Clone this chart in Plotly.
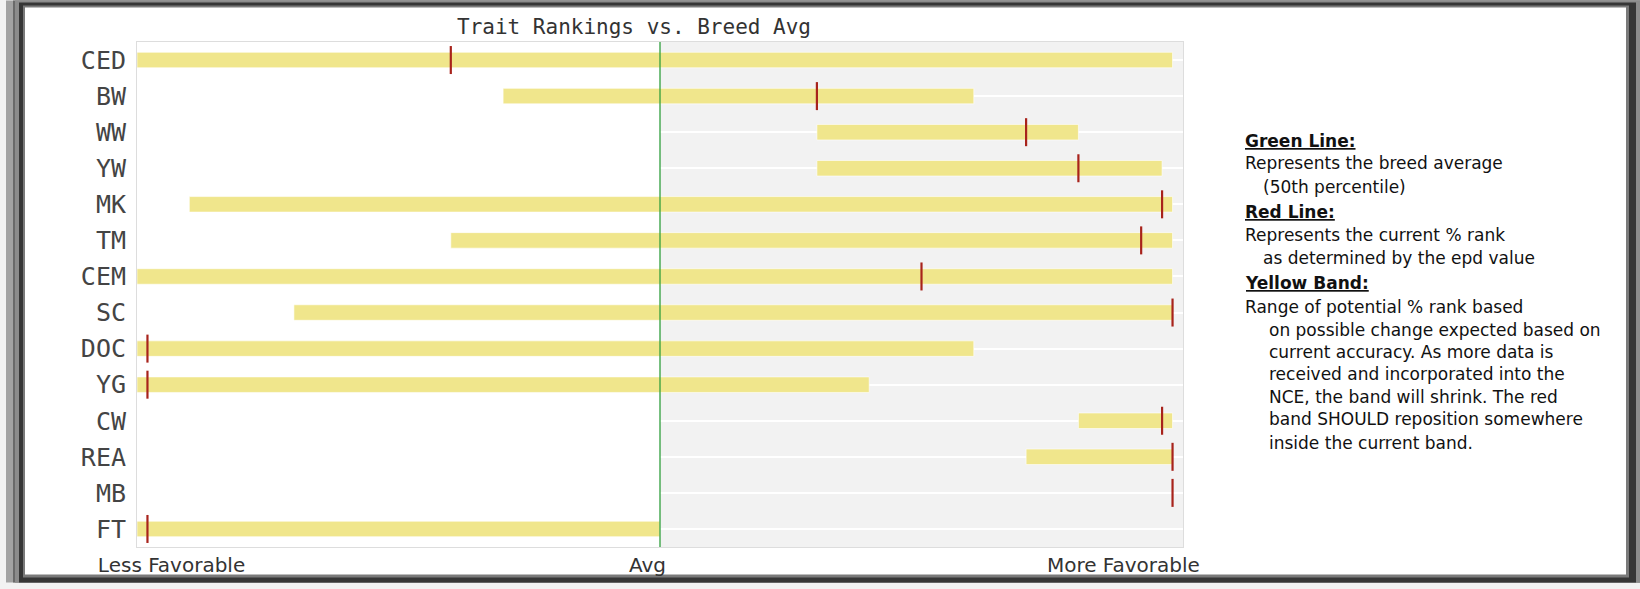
import plotly.graph_objects as go

# ---------------- data ----------------
traits = ["CED", "BW", "WW", "YW", "MK", "TM", "CEM", "SC", "DOC", "YG", "CW", "REA", "MB", "FT"]
band_low = [0, 35, 65, 65, 5, 30, 0, 15, 0, 0, 90, 85, 99, 0]
band_high = [99, 80, 90, 98, 99, 99, 99, 99, 80, 70, 99, 99, 99, 50]
current_rank = [30, 65, 85, 90, 98, 96, 75, 99, 1, 1, 98, 99, 99, 1]
breed_avg = 50
x_tick_vals = [3.3, 48.8, 94.3]
x_tick_text = ["Less Favorable", "Avg", "More Favorable"]
chart_title = "Trait Rankings vs. Breed Avg"
legend_lines = [
    ("<b><u>Green Line:</u></b>", 0),
    ("Represents the breed average", 0),
    ("(50th percentile)", 1),
    ("<b><u>Red Line:</u></b>", 0),
    ("Represents the current % rank", 0),
    ("as determined by the epd value", 1),
    ("<b><u>Yellow Band:</u></b>", 0),
    ("Range of potential % rank based", 0),
    ("on possible change expected based on", 2),
    ("current accuracy. As more data is", 2),
    ("received and incorporated into the", 2),
    ("NCE, the band will shrink. The red", 2),
    ("band SHOULD reposition somewhere", 2),
    ("inside the current band.", 2),
]

# ---------------- geometry ----------------
W, H = 1640, 589
PL, PR, PT, PB = 137, 1183, 42, 554


def px2x(px):
    return (px - PL) / (PR - PL)


def py2y(py):
    return (PB - py) / (PB - PT)


fig = go.Figure()

fig.add_trace(go.Bar(
    y=traits,
    x=[h - l for l, h in zip(band_low, band_high)],
    base=band_low,
    orientation="h",
    width=0.43,
    marker=dict(color="#F0E68C", line=dict(color="rgba(255,255,255,0.6)", width=1)),
    hoverinfo="skip",
    showlegend=False,
))

fig.add_trace(go.Scatter(
    y=traits,
    x=current_rank,
    mode="markers",
    marker=dict(symbol="line-ns", size=20, line=dict(color="#A8231B", width=2.2)),
    hoverinfo="skip",
    showlegend=False,
))

shapes = []
# outer frame
frame = [
    (6, 0, 1641, 590, "#a3a3a3"),
    (13, 0, 1641, 590, "#6a6a6a"),
    (15, 0, 1641, 590, "#8c8c8c"),
    (19, 2, 1636, 590, "#363636"),
    (23, 5, 1629, 585, "#7a7a7a"),
    (25, 7, 1626, 582, "#ffffff"),
]
for x0, y0, x1, y1, c in frame:
    shapes.append(dict(type="rect", xref="paper", yref="paper",
                       x0=px2x(x0), x1=px2x(x1), y0=py2y(y1), y1=py2y(y0),
                       fillcolor=c, line=dict(width=0), layer="below"))
# grey right half of plot
shapes.append(dict(type="rect", xref="x", yref="paper", x0=breed_avg, x1=100, y0=0, y1=1,
                   fillcolor="#f2f2f2", line=dict(width=0), layer="below"))
# green average line
shapes.append(dict(type="line", xref="x", yref="paper", x0=breed_avg, x1=breed_avg, y0=0, y1=1,
                   line=dict(color="#2f9e3c", width=1.3), layer="above"))

annotations = []
line_y = [142, 165, 189, 214, 238, 261, 286.6, 310.6, 333.7, 356.7, 378.6, 401.7, 424.7, 448.7]
indent_px = [1243, 1261, 1267]
for (txt, ind), yy in zip(legend_lines, line_y):
    annotations.append(dict(
        text=txt, xref="paper", yref="paper", x=px2x(indent_px[ind]), y=py2y(yy),
        xanchor="left", yanchor="middle", showarrow=False, align="left",
        font=dict(family="DejaVu Sans", size=17, color="#111111"),
    ))

n = len(traits)
fig.update_layout(
    width=W, height=H, autosize=False,
    margin=dict(l=PL, r=W - PR, t=PT, b=H - PB, pad=0),
    paper_bgcolor="#f2f2f2",
    plot_bgcolor="#ffffff",
    barmode="overlay",
    title=dict(text=chart_title, x=634 / W, xref="container", xanchor="center",
               y=1 - 27 / H, yref="container", yanchor="middle",
               font=dict(family="DejaVu Sans Mono", size=21, color="#333333")),
    xaxis=dict(range=[0, 100], tickvals=x_tick_vals, ticktext=x_tick_text,
               showgrid=False, zeroline=False, showline=True, mirror=True,
               linecolor="#dddddd", linewidth=1, ticks="",
               tickfont=dict(family="DejaVu Sans", size=20, color="#333333"),
               fixedrange=True),
    yaxis=dict(categoryorder="array", categoryarray=traits, range=[n - 0.5, -0.5],
               showgrid=True, gridcolor="#ffffff", gridwidth=2,
               showline=True, mirror=True, linecolor="#dddddd", linewidth=1,
               ticks="outside", ticklen=5, tickcolor="rgba(0,0,0,0)",
               tickfont=dict(family="DejaVu Sans Mono", size=25, color="#444444"),
               fixedrange=True),
    shapes=shapes,
    annotations=annotations,
)

fig.write_html("out.html", config={"displayModeBar": False},
               post_script="document.body.style.margin='0';document.body.style.overflow='hidden';"
                           "document.body.style.background='#3a3a3a';")
